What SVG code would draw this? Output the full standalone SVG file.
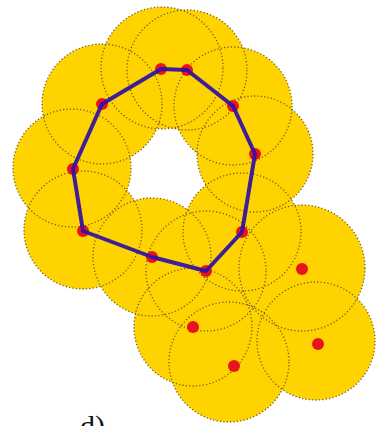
<svg xmlns="http://www.w3.org/2000/svg" width="377" height="426" viewBox="0 0 377 426">
<style>
.disk{fill:#FFD300;stroke:none}
.rim{fill:none;stroke:#6b5a2a;stroke-width:1.3;stroke-dasharray:1.2 2.2}
.pt{fill:#E8141C}
.edge{fill:none;stroke:#2E0FA8;stroke-width:4;stroke-linejoin:round;stroke-opacity:0.92}
.lbl{font-family:"Liberation Serif",serif;font-size:30px;fill:#111}
</style>
<rect width="377" height="426" fill="#fff"/>
<g id="disks">
<circle class="disk" cx="302" cy="268" r="63"/>
<circle class="disk" cx="316" cy="341" r="59"/>
<circle class="disk" cx="193" cy="327" r="59"/>
<circle class="disk" cx="229" cy="362" r="60"/>
<circle class="disk" cx="242" cy="232" r="59"/>
<circle class="disk" cx="206" cy="271" r="60"/>
<circle class="disk" cx="152" cy="257" r="59"/>
<circle class="disk" cx="83" cy="230" r="59"/>
<circle class="disk" cx="72" cy="168" r="59"/>
<circle class="disk" cx="102" cy="104" r="60"/>
<circle class="disk" cx="162" cy="68" r="61"/>
<circle class="disk" cx="187" cy="70" r="60"/>
<circle class="disk" cx="233" cy="106" r="59"/>
<circle class="disk" cx="255" cy="154" r="58"/>
</g>
<g id="rims">
<circle class="rim" cx="302" cy="268" r="63"/>
<circle class="rim" cx="316" cy="341" r="59"/>
<circle class="rim" cx="193" cy="327" r="59"/>
<circle class="rim" cx="229" cy="362" r="60"/>
<circle class="rim" cx="242" cy="232" r="59"/>
<circle class="rim" cx="206" cy="271" r="60"/>
<circle class="rim" cx="152" cy="257" r="59"/>
<circle class="rim" cx="83" cy="230" r="59"/>
<circle class="rim" cx="72" cy="168" r="59"/>
<circle class="rim" cx="102" cy="104" r="60"/>
<circle class="rim" cx="162" cy="68" r="61"/>
<circle class="rim" cx="187" cy="70" r="60"/>
<circle class="rim" cx="233" cy="106" r="59"/>
<circle class="rim" cx="255" cy="154" r="58"/>
</g>
<g id="n1"><circle class="pt" cx="161" cy="69" r="6"/></g>
<g id="n2"><circle class="pt" cx="187" cy="70" r="6"/></g>
<g id="n3"><circle class="pt" cx="233" cy="106" r="6"/></g>
<g id="n4"><circle class="pt" cx="255" cy="154" r="6"/></g>
<g id="n5"><circle class="pt" cx="242" cy="232" r="6"/></g>
<g id="n6"><circle class="pt" cx="206" cy="271" r="6"/></g>
<g id="n7"><circle class="pt" cx="152" cy="257" r="6"/></g>
<g id="n8"><circle class="pt" cx="83" cy="231" r="6"/></g>
<g id="n9"><circle class="pt" cx="73" cy="169" r="6"/></g>
<g id="n10"><circle class="pt" cx="102" cy="104" r="6"/></g>
<g id="n11"><circle class="pt" cx="302" cy="269" r="6"/></g>
<g id="n12"><circle class="pt" cx="193" cy="327" r="6"/></g>
<g id="n13"><circle class="pt" cx="234" cy="366" r="6"/></g>
<g id="n14"><circle class="pt" cx="318" cy="344" r="6"/></g>
<g id="connectors">
<polyline class="edge" points="242,232 255,154 233,106 187,70 161,69 102,104 73,169 83,231 152,257 206,271 242,232"/>
</g>
<text class="lbl" x="80" y="436">d)</text>
</svg>
